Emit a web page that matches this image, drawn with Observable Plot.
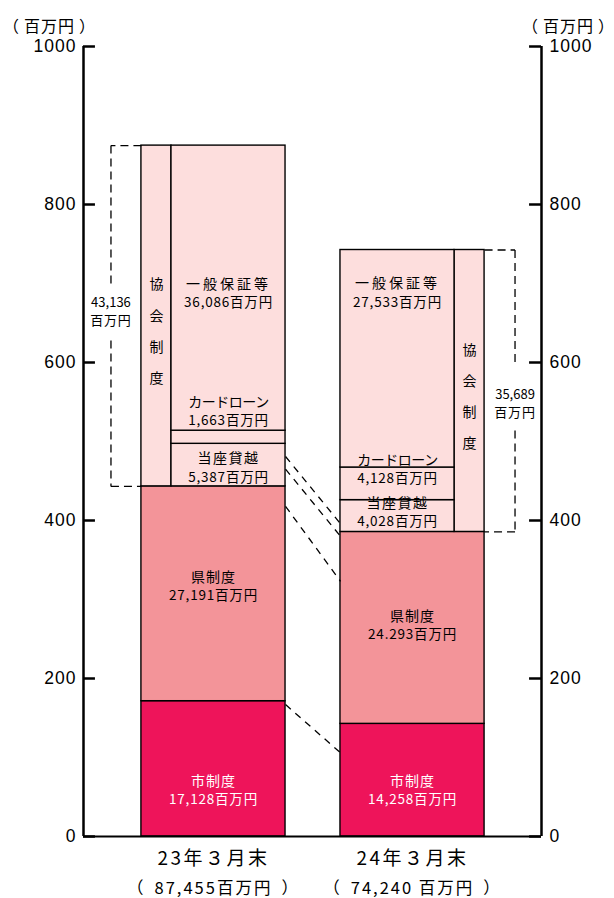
<!DOCTYPE html>
<html><head><meta charset="utf-8">
<script src="https://cdn.jsdelivr.net/npm/d3@7"></script>
<script src="https://cdn.jsdelivr.net/npm/@observablehq/plot@0.6"></script>
<style>
body{margin:0;background:#fff}
</style>
</head><body><div id="chart"></div>
<script>
// ---- data (百万円) ----
const categories = ["23年３月末", "24年３月末"];
const totalLabels = ["（87,455百万円）", "（74,240 百万円）"];
const shiValues = [17128, 14258];      // 市制度
const kenValues = [27191, 24293];      // 県制度
const tozaValues = [5387, 4028];       // 当座貸越
const cardValues = [1663, 4128];       // カードローン
const ippanValues = [36086, 27533];    // 一般保証等
const kyokaiTotals = [43136, 35689];   // 協会制度
const shiLabels = ["17,128百万円", "14,258百万円"];
const kenLabels = ["27,191百万円", "24.293百万円"];
const tozaLabels = ["5,387百万円", "4,028百万円"];
const cardLabels = ["1,663百万円", "4,128百万円"];
const ippanLabels = ["36,086百万円", "27,533百万円"];
const kyokaiLabels = ["43,136", "35,689"];
const unitLabel = "百万円";
const yTicks = [0, 200, 400, 600, 800, 1000];
// dashed connector lines between the bars (axis units, as drawn)
const connectorFrom = [481, 465, 418, 167];
const connectorTo = [396, 380, 323, 106];

// ---- layout ----
const U = 100; // axis unit = 100 百万円
const xmin = 0.347, xmax = 2.648;
const half = 0.362, colW = 0.151, brk = 0.153, tickLen = 0.06;
const colors = {shi: "#ee145a", ken: "#f39499", kyo: "#fddedd"};

const segs = [];
categories.forEach((c, i) => {
  const cx = i + 1, L = cx - half, R = cx + half;
  const base = (shiValues[i] + kenValues[i]) / U;
  const top = base + kyokaiTotals[i] / U;
  const colL = i === 0 ? L : R - colW, colR = i === 0 ? L + colW : R;
  const subL = i === 0 ? L + colW : L, subR = i === 0 ? R : R - colW;
  segs.push({x1: L, x2: R, y1: 0, y2: shiValues[i] / U, s: "shi"});
  segs.push({x1: L, x2: R, y1: shiValues[i] / U, y2: base, s: "ken"});
  segs.push({x1: colL, x2: colR, y1: base, y2: top, s: "kyo"});
  let y = base;
  for (const v of [tozaValues[i], cardValues[i], ippanValues[i]]) {
    segs.push({x1: subL, x2: subR, y1: y, y2: y + v / U, s: "kyo"});
    y += v / U;
  }
});

// label centre positions (axis units)
const pos = [
  {shi: 58.2, ken: 316.5, toza: 466.5, card: 538, ippan: 687.3, col: 646, brk: 664.6},
  {shi: 58.2, ken: 267.7, toza: 410.5, card: 464.6, ippan: 688, col: 563, brk: 547.5}
];
const line1 = [], line2 = [];
categories.forEach((c, i) => {
  const cx = i + 1, L = cx - half, R = cx + half;
  const subC = i === 0 ? (L + colW + R) / 2 : (L + R - colW) / 2;
  const add = (x, y, a, b, fill = "black") => { line1.push({x, y, text: a, fill}); line2.push({x, y, text: b, fill}); };
  add(cx, pos[i].shi, "市制度", shiLabels[i], "white");
  add(cx, pos[i].ken, "県制度", kenLabels[i]);
  add(subC, pos[i].toza, "当座貸越", tozaLabels[i]);
  add(subC, pos[i].card, "カードローン", cardLabels[i]);
  add(subC, pos[i].ippan, "一般保証等", ippanLabels[i]);
});

const verticals = categories.map((c, i) => ({
  x: i === 0 ? 1 - half + colW / 2 : 2 + half - colW / 2,
  y: pos[i].col, text: "協\n会\n制\n度"
}));
const brackets = categories.map((c, i) => {
  const base = (shiValues[i] + kenValues[i]) / U;
  const top = base + kyokaiTotals[i] / U;
  const edge = i === 0 ? 1 - half : 2 + half;
  const bx = i === 0 ? edge - brk : edge + brk;
  return {edge, bx, base, top, y: pos[i].brk, text: kyokaiLabels[i]};
});
const gaps = [[700, 628], [596, 514]];
const bracketLines = [];
brackets.forEach((b, i) => {
  bracketLines.push({x1: b.edge, y1: b.top, x2: b.bx, y2: b.top});
  bracketLines.push({x1: b.bx, y1: b.top, x2: b.bx, y2: gaps[i][0]});
  bracketLines.push({x1: b.bx, y1: gaps[i][1], x2: b.bx, y2: b.base});
  bracketLines.push({x1: b.bx, y1: b.base, x2: b.edge, y2: b.base});
});
const connectors = connectorFrom.map((f, i) => ({x1: 1 + half, y1: f, x2: 2 - half, y2: connectorTo[i]}));

const jp = "'Noto Sans CJK JP', sans-serif";
const num = "'Liberation Sans', Arial, sans-serif";
const chart = Plot.plot({
  width: 614, height: 898,
  marginLeft: 83, marginRight: 73, marginTop: 46, marginBottom: 62,
  x: {domain: [xmin, xmax], axis: null},
  y: {domain: [0, 1000], axis: null},
  style: {fontFamily: jp, background: "white", color: "black", overflow: "visible"},
  marks: [
    Plot.rect(segs, {x1: "x1", x2: "x2", y1: "y1", y2: "y2", fill: d => colors[d.s], stroke: "black", strokeWidth: 1.4}),
    Plot.link(connectors, {x1: "x1", y1: "y1", x2: "x2", y2: "y2", stroke: "black", strokeWidth: 1.3, strokeDasharray: "7,6"}),
    Plot.link(bracketLines, {x1: "x1", y1: "y1", x2: "x2", y2: "y2", stroke: "black", strokeWidth: 1.3, strokeDasharray: "8,5"}),
    Plot.text(line1, {x: "x", y: "y", text: "text", fill: "fill", fontSize: 14, dy: -9}),
    Plot.text(line2, {x: "x", y: "y", text: "text", fill: "fill", fontSize: 13.5, dy: 9.5}),
    Plot.text(verticals, {x: "x", y: "y", text: "text", fontSize: 14, lineHeight: 2.22, lineAnchor: "middle"}),
    Plot.text(brackets, {x: "bx", y: "y", text: "text", fontSize: 13, dy: -9, fill: "black"}),
    Plot.text(brackets, {x: "bx", y: "y", text: () => unitLabel, fontSize: 13, dy: 9, fill: "black"}),
    // axes
    Plot.ruleX([xmin, xmax], {y1: 0, y2: 1000, stroke: "black", strokeWidth: 2.5}),
    Plot.ruleY([0], {x1: xmin, x2: xmax, stroke: "black", strokeWidth: 2}),
    Plot.ruleY(yTicks, {x1: xmin, x2: xmin + tickLen, stroke: "black", strokeWidth: 2.5}),
    Plot.ruleY(yTicks, {x1: xmax - tickLen, x2: xmax, stroke: "black", strokeWidth: 2.5}),
    Plot.text(yTicks, {x: xmin, y: d => d, text: d => String(d), dx: -7, textAnchor: "end", fontSize: 17.5, fontFamily: num, fill: "black"}),
    Plot.text(yTicks, {x: xmax, y: d => d, text: d => String(d), dx: 8, textAnchor: "start", fontSize: 17.5, fontFamily: num, fill: "black"}),
    Plot.text(["（百万円）"], {x: xmin, y: 1000, dx: -34, dy: -20, fontSize: 16, fill: "black"}),
    Plot.text(["（百万円）"], {x: xmax, y: 1000, dx: 27, dy: -20, fontSize: 16, fill: "black"}),
    Plot.text(categories, {x: (d, i) => i + 1, y: 0, dy: 22, text: d => d, fontSize: 19, fill: "black"}),
    Plot.text(totalLabels, {x: (d, i) => i + 1, y: 0, dy: 52, text: d => d, fontSize: 16.5, fill: "black"})
  ]
});
document.getElementById("chart").appendChild(chart);

// per-text letter spacing (style only)
const spacing = {"一般保証等": 3, "当座貸越": 1.5, "カードローン": -0.5, "市制度": 1, "県制度": 1,
  "（百万円）": 1, "23年３月末": 2.5, "24年３月末": 2.5, "（87,455百万円）": 2, "（74,240 百万円）": 2};
const parenGap = {"（百万円）": 4, "（87,455百万円）": 9, "（74,240 百万円）": 9};
d3.select(chart).selectAll("text").each(function () {
  const t = this.textContent;
  if (this.querySelector("tspan")) return;
  if (spacing[t] != null) this.style.letterSpacing = spacing[t] + "px";
  else if (/百万円$/.test(t)) this.style.letterSpacing = "0.8px";
  else if (/^\d+$/.test(t)) this.style.letterSpacing = "1px";
  if (parenGap[t] != null) {
    const g = parenGap[t];
    const parts = [t.slice(0, 1), t.slice(1, -1), t.slice(-1)];
    this.textContent = "";
    parts.forEach((p, k) => {
      const ts = document.createElementNS("http://www.w3.org/2000/svg", "tspan");
      ts.textContent = p;
      if (k > 0) ts.setAttribute("dx", g);
      this.appendChild(ts);
    });
  }
});
</script>
</body></html>
